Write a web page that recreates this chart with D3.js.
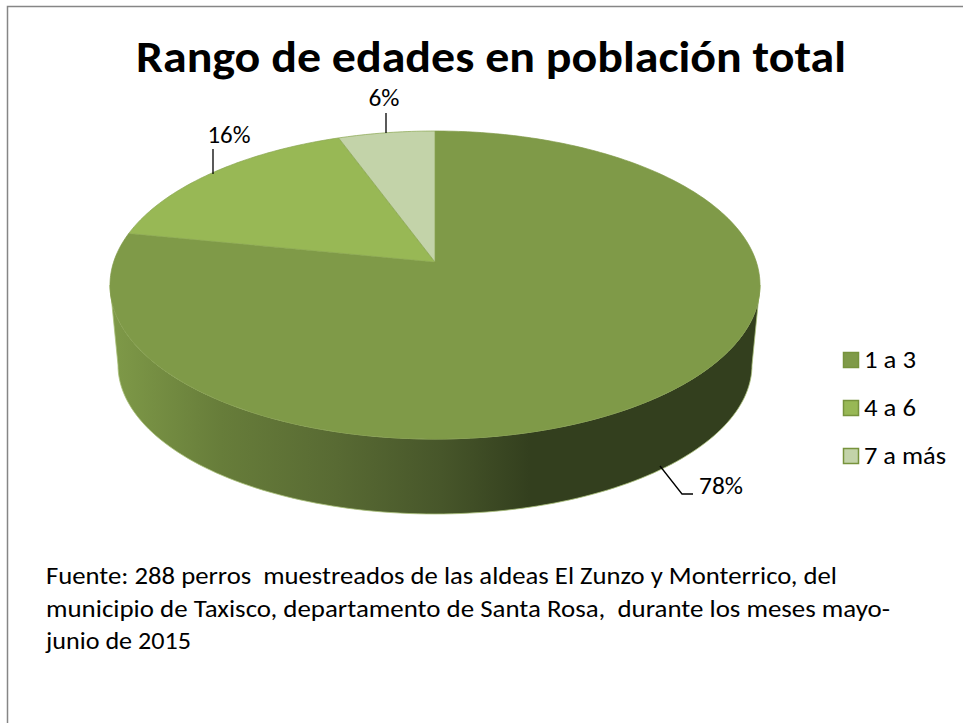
<!DOCTYPE html>
<html><head><meta charset="utf-8">
<script src="https://cdn.jsdelivr.net/npm/d3@7/dist/d3.min.js"></script>
<style>html,body{margin:0;padding:0;background:#fff}svg{display:block}text{font-family:Carlito,Lato,"Open Sans",sans-serif;fill:#000;white-space:pre}</style>
</head><body><div id="c"></div>
<script>
const categories=["1 a 3","4 a 6","7 a más"];
const counts=[225,47,16];
const sliceColors=["#7f9a48","#98b855","#c3d3a9"];
const titleText="Rango de edades en población total";
const noteLines=["Fuente: 288 perros  muestreados de las aldeas El Zunzo y Monterrico, del","municipio de Taxisco, departamento de Santa Rosa,  durante los meses mayo-","junio de 2015"];
const noteWidths=[791,844,145];

const W=963,H=723;
const svg=d3.select("#c").append("svg").attr("width",W).attr("height",H);
const defs=svg.append("defs");
const grad=defs.append("linearGradient").attr("id","wall").attr("gradientUnits","userSpaceOnUse")
 .attr("x1",110).attr("x2",760).attr("y1",0).attr("y2",0);
[[0,"#7f9a48"],[0.17,"#677d3a"],[0.35,"#586a33"],[0.51,"#47562a"],[0.646,"#333f1e"],[1,"#333f1e"]]
 .forEach(s=>grad.append("stop").attr("offset",s[0]).attr("stop-color",s[1]));

// frame
svg.append("path").attr("d",`M${W},6.5H7.5V${H}`).attr("fill","none").attr("stroke","#868686").attr("stroke-width",1.5);

// perspective of a flat disc: centre of the disc lands above the ellipse centre
const p=0.149,k=Math.sqrt(1-p*p);
const xTop=d3.scaleLinear().domain([-1,1]).range([110,760]);
const yTop=d3.scaleLinear().domain([-1,1]).range([439,131]);
const xBot=d3.scaleLinear().domain([-1,1]).range([118,752]);
const yBot=d3.scaleLinear().domain([-1,1]).range([514,216]);
const proj=a=>{const u=Math.sin(a),v=Math.cos(a),w=1+p*v;return [u*k/w,(v+p)/w];};
const topPt=a=>{const q=proj(a);return [xTop(q[0]),yTop(q[1])];};
const botPt=a=>{const q=proj(a);return [xBot(q[0]),yBot(q[1])];};
const line=d3.line();
const arcs=d3.pie().sort(null).value(d=>d)(counts);
const total=d3.sum(counts);
const apex=[xTop(0),yTop(p)];

// side wall: between the two extreme points of the ellipses
const a0=Math.PI-Math.acos(p), a1=Math.PI+Math.acos(p);
const n=d3.range(0,121).map(i=>a0+(a1-a0)*i/120);
const wallPts=[...n.map(topPt),...n.slice().reverse().map(botPt)];
svg.append("path").attr("d",line(wallPts)+"Z").attr("fill","url(#wall)").attr("stroke","#a9c07a").attr("stroke-width",0.8);

// top face
arcs.forEach((d,i)=>{
  const m=Math.max(2,Math.ceil((d.endAngle-d.startAngle)*60));
  const pts=d3.range(m+1).map(j=>topPt(d.startAngle+(d.endAngle-d.startAngle)*j/m));
  svg.append("path").attr("d",line([apex,...pts])+"Z")
    .attr("fill",sliceColors[i]).attr("stroke",i==0?"#7f9a48":"#8aa650").attr("stroke-width",0.7).attr("stroke-linejoin","round");
});

// title
svg.append("text").attr("x",136).attr("y",72).attr("font-size",44).attr("font-weight",700).attr("textLength",710).attr("lengthAdjust","spacingAndGlyphs").text(titleText);

// data labels with leader lines
const leaders=[[[660,466],[682,494],[693,494]],[[213,174],[213,149]],[[386,133],[386,113]]];
const labelPos=[[699,494],[229,143],[384,106]];
const labelWidths=[44,43,31];
const anchor=["start","middle","middle"];
leaders.forEach(l=>svg.append("path").attr("d",line(l)).attr("fill","none").attr("stroke","#000").attr("stroke-width",1.3));
counts.forEach((c,i)=>svg.append("text").attr("x",labelPos[i][0]).attr("y",labelPos[i][1]).attr("text-anchor",anchor[i]).attr("font-size",24).attr("textLength",labelWidths[i]).attr("lengthAdjust","spacingAndGlyphs").text(Math.round(c/total*100)+"%"));

// legend
const ly=d3.scalePoint().domain(categories).range([360,456]);
const legendWidths=[52,52,82];
categories.forEach((c,i)=>{
  svg.append("rect").attr("x",843.5).attr("y",ly(c)-7.5).attr("width",15).attr("height",15).attr("fill",sliceColors[i]).attr("stroke","#77933c").attr("stroke-width",1.5);
  svg.append("text").attr("x",864).attr("y",ly(c)+8).attr("font-size",24).attr("textLength",legendWidths[i]).attr("lengthAdjust","spacingAndGlyphs").text(c);
});

// note
const noteY=d3.scaleLinear().domain([0,2]).range([584,649]);
noteLines.forEach((t,i)=>svg.append("text").attr("x",46).attr("y",noteY(i)).attr("font-size",24).attr("textLength",noteWidths[i]).attr("lengthAdjust","spacingAndGlyphs").text(t));
</script></body></html>
